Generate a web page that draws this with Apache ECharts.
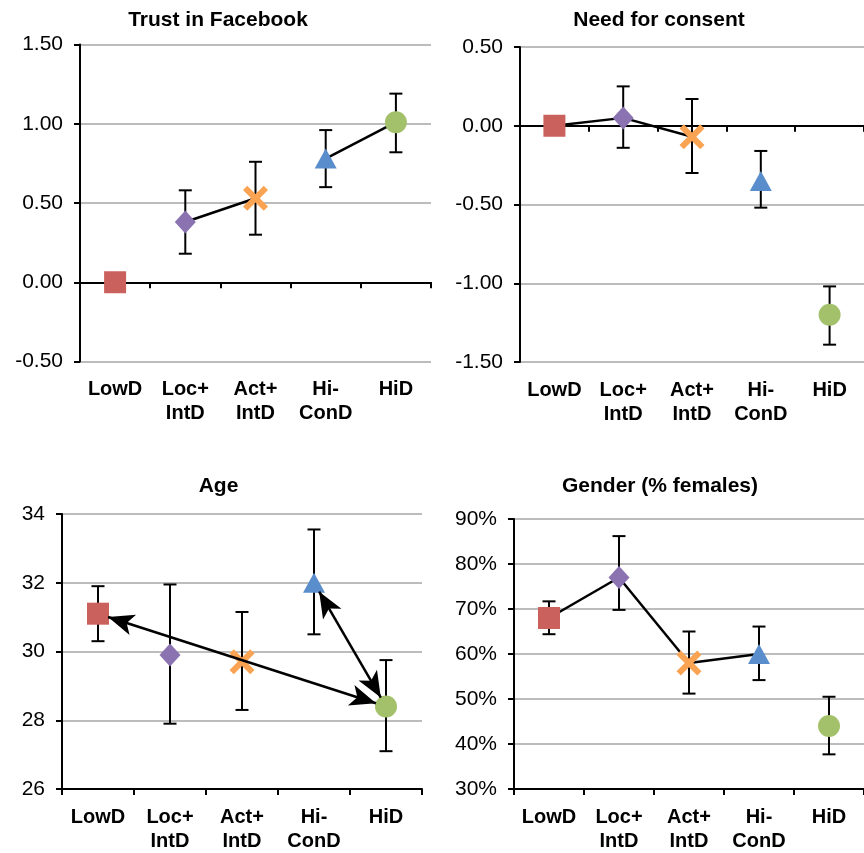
<!DOCTYPE html>
<html><head><meta charset="utf-8">
<script src="https://cdn.jsdelivr.net/npm/echarts@6/dist/echarts.min.js"></script>
<style>html,body{margin:0;padding:0;background:#fff}#c{width:864px;height:853px}</style>
</head><body><div id="c"></div>
<script>
// ---------- data ----------
const categories = ['LowD', 'Loc+\nIntD', 'Act+\nIntD', 'Hi-\nConD', 'HiD'];

const trustTitle = 'Trust in Facebook';
const trustMean = [0, 0.38, 0.53, 0.78, 1.01];
const trustLow  = [null, 0.18, 0.30, 0.60, 0.82];
const trustHigh = [null, 0.58, 0.76, 0.96, 1.19];
const trustLinks = [[1, 2], [3, 4]];
const trustTicks = [-0.5, 1.5, 0.5];

const consentTitle = 'Need for consent';
const consentMean = [0, 0.05, -0.07, -0.35, -1.20];
const consentLow  = [null, -0.14, -0.30, -0.52, -1.39];
const consentHigh = [null, 0.25, 0.17, -0.16, -1.02];
const consentLinks = [[0, 1], [1, 2]];
const consentTicks = [-1.5, 0.5, 0.5];

const ageTitle = 'Age';
const ageMean = [31.1, 29.9, 29.7, 32.0, 28.4];
const ageLow  = [30.3, 27.9, 28.3, 30.5, 27.1];
const ageHigh = [31.9, 31.95, 31.15, 33.55, 29.75];
const ageArrows = [[0, 4], [3, 4]];
const ageTicks = [26, 34, 2];

const genderTitle = 'Gender (% females)';
const genderMean = [68, 77, 58, 60, 44];
const genderLow  = [64.4, 69.8, 51.2, 54.2, 37.7];
const genderHigh = [71.7, 86.2, 65.0, 66.1, 50.5];
const genderLinks = [[0, 1], [1, 2], [2, 3]];
const genderTicks = [30, 90, 10];

// ---------- styles ----------
const FONT = '"Liberation Sans", Arial, sans-serif';
const markerStyles = [
  { symbol: 'rect', size: [22, 22], color: '#CB615C' },
  { symbol: 'diamond', size: [21, 23], color: '#8B72B0' },
  { symbol: 'path://M17,0L50,33L83,0L100,17L67,50L100,83L83,100L50,67L17,100L0,83L33,50L0,17Z', size: [25, 25], color: '#F9A353' },
  { symbol: 'triangle', size: [22, 20], color: '#5A8DCB' },
  { symbol: 'circle', size: 22, color: '#A3C16A' }
];
const arrowShrink = [0.035, 0.072];

const panels = [
  { title: trustTitle, tx: 218, ty: 10, grid: { left: 80, top: 44.5, width: 351, height: 317 },
    mean: trustMean, low: trustLow, high: trustHigh, links: trustLinks, ticks: trustTicks,
    fmt: v => v.toFixed(2), zero: true },
  { title: consentTitle, tx: 659, ty: 10, grid: { left: 520, top: 47, width: 351, height: 315 },
    mean: consentMean, low: consentLow, high: consentHigh, links: consentLinks, ticks: consentTicks,
    fmt: v => v.toFixed(2), zero: true },
  { title: ageTitle, tx: 218.5, ty: 476, grid: { left: 62, top: 514, width: 360, height: 276 },
    mean: ageMean, low: ageLow, high: ageHigh, links: [], arrows: ageArrows, ticks: ageTicks,
    fmt: v => String(v), zero: false },
  { title: genderTitle, tx: 660, ty: 476, grid: { left: 514, top: 519, width: 357, height: 271 },
    mean: genderMean, low: genderLow, high: genderHigh, links: genderLinks, ticks: genderTicks,
    fmt: v => v + '%', zero: false }
];

const option = { animation: false, title: [], grid: [], xAxis: [], yAxis: [], series: [] };
const black = { color: '#000', width: 2 };

panels.forEach((p, i) => {
  option.title.push({ text: p.title, left: p.tx, top: p.ty, textAlign: 'center', padding: 0,
    textStyle: { fontFamily: FONT, fontSize: 21, fontWeight: 'bold', color: '#000' } });
  option.grid.push(Object.assign({ containLabel: false }, p.grid));

  const mainX = option.xAxis.length;
  option.xAxis.push({
    type: 'category', gridIndex: i, data: categories, position: 'bottom',
    axisLine: { show: !p.zero, onZero: false, lineStyle: black },
    axisTick: { show: !p.zero, length: 6, lineStyle: black },
    axisLabel: { interval: 0, margin: 16, fontFamily: FONT, fontSize: 20, fontWeight: 'bold',
      color: '#000', lineHeight: 24 },
    splitLine: { show: false }
  });
  if (p.zero) {
    option.xAxis.push({
      type: 'category', gridIndex: i, data: categories, position: 'bottom',
      axisLine: { show: true, onZero: true, lineStyle: black },
      axisTick: { show: true, length: 6, lineStyle: black },
      axisLabel: { show: false }, splitLine: { show: false }
    });
  }
  let valX = null;
  if (p.arrows) {
    valX = option.xAxis.length;
    option.xAxis.push({ type: 'value', gridIndex: i, min: -0.5, max: 4.5, show: false, position: 'top' });
  }
  option.yAxis.push({
    type: 'value', gridIndex: i, min: p.ticks[0], max: p.ticks[1], interval: p.ticks[2],
    axisLine: { show: true, onZero: false, lineStyle: black },
    axisTick: { show: true, length: 6, lineStyle: black },
    axisLabel: { formatter: p.fmt, fontFamily: FONT, fontSize: 21, color: '#000', margin: 17 },
    splitLine: { show: true, lineStyle: { color: '#A6A6A6', width: 1.5 } }
  });

  // connecting lines
  p.links.forEach(([a, b]) => {
    option.series.push({
      type: 'line', xAxisIndex: mainX, yAxisIndex: i, silent: true, z: 2,
      symbol: 'none', connectNulls: false,
      lineStyle: { color: '#000', width: 2.5 },
      data: p.mean.map((v, k) => (k === a || k === b) ? v : '-')
    });
  });

  // error bars
  const errData = [];
  p.mean.forEach((v, k) => { if (p.low[k] != null) errData.push([k, p.low[k], p.high[k]]); });
  option.series.push({
    type: 'custom', xAxisIndex: mainX, yAxisIndex: i, silent: true, z: 3,
    data: errData,
    renderItem: (params, api) => {
      const lo = api.coord([api.value(0), api.value(1)]);
      const hi = api.coord([api.value(0), api.value(2)]);
      const w = 6.5;
      const st = { stroke: '#000', lineWidth: 2 };
      return { type: 'group', children: [
        { type: 'line', shape: { x1: lo[0], y1: lo[1], x2: hi[0], y2: hi[1] }, style: st },
        { type: 'line', shape: { x1: lo[0] - w, y1: lo[1], x2: lo[0] + w, y2: lo[1] }, style: st },
        { type: 'line', shape: { x1: hi[0] - w, y1: hi[1], x2: hi[0] + w, y2: hi[1] }, style: st }
      ] };
    }
  });

  // markers
  option.series.push({
    type: 'scatter', xAxisIndex: mainX, yAxisIndex: i, silent: true, z: 4,
    data: p.mean.map((v, k) => ({
      value: [k, v], symbol: markerStyles[k].symbol, symbolSize: markerStyles[k].size,
      itemStyle: { color: markerStyles[k].color, opacity: 1 }
    }))
  });

  // arrows
  if (p.arrows) {
    const md = p.arrows.map(([a, b], j) => {
      const f = arrowShrink[j];
      const x0 = a, y0 = p.mean[a], x1 = b, y1 = p.mean[b];
      return [
        { coord: [x0 + f * (x1 - x0), y0 + f * (y1 - y0)] },
        { coord: [x1 - f * (x1 - x0), y1 - f * (y1 - y0)] }
      ];
    });
    option.series.push({
      type: 'line', xAxisIndex: valX, yAxisIndex: i, silent: true, z: 5,
      symbol: 'none', lineStyle: { opacity: 0 },
      data: p.arrows.map(([a]) => [a, p.mean[a]]),
      markLine: {
        silent: true, animation: false, symbol: ['arrow', 'arrow'], symbolSize: [16, 26],
        label: { show: false },
        lineStyle: { color: '#000', width: 2.5, type: 'solid' },
        emphasis: { disabled: true },
        data: md
      }
    });
  }
});

const chart = echarts.init(document.getElementById('c'), null, { renderer: 'canvas' });
chart.setOption(option);
</script>
</body></html>
